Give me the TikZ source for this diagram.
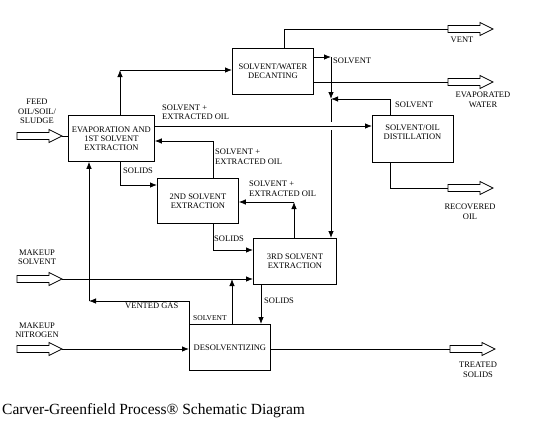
\documentclass[tikz,border=0pt]{standalone}
\usepackage{fontspec}
\setmainfont{Liberation Serif}
\usetikzlibrary{arrows.meta}
\newcommand{\hollowarrow}[1]{\draw[line width=0.7pt] ([shift={(0,-3.5)}]#1) -- ++(32,0) -- ++(0,-3) -- ++(13,6.5) -- ++(-13,6.5) -- ++(0,-3) -- ++(-32,0) -- cycle;}
\begin{document}
\begin{tikzpicture}[x=1pt,y=-1pt,
  box/.style={draw,line width=0.8pt,inner sep=0pt,anchor=north west,align=center,font=\fontsize{8.5}{9}\selectfont},
  lab/.style={inner sep=0pt,font=\fontsize{8.5}{9.5}\selectfont,align=left,anchor=west},
  clab/.style={inner sep=0pt,font=\fontsize{8.5}{9.5}\selectfont,align=center},
  wire/.style={line width=0.8pt},
  flow/.style={wire,-{Latex[length=7pt,width=5.5pt]}}
]
\useasboundingbox (0,0) rectangle (535,423);

% boxes
\node[box,minimum width=86pt,minimum height=46pt] (evap) at (68,115) {EVAPORATION AND\\1ST SOLVENT\\EXTRACTION};
\node[box,minimum width=81pt,minimum height=46pt] (decant) at (232,48) {SOLVENT/WATER\\DECANTING};
\node[box,minimum width=81pt,minimum height=45pt] (second) at (157,178) {2ND SOLVENT\\EXTRACTION};
\node[box,minimum width=83pt,minimum height=46pt] (third) at (253,238) {3RD SOLVENT\\EXTRACTION};
\node[box,minimum width=81pt,minimum height=47pt] (distill) at (372,115) {};
\node[clab,font=\fontsize{8.5}{9}\selectfont] (distilltext) at (412.5,132.5) {SOLVENT/OIL\\DISTILLATION};
\node[box,minimum width=81pt,minimum height=46pt] (desolv) at (189,324) {DESOLVENTIZING};

% hollow arrows: tail and tip coordinates
\coordinate (feedA) at (17,136);   \coordinate (feedT) at (62,136);
\coordinate (msA) at (17,279);     \coordinate (msT) at (62,279);
\coordinate (mnA) at (17,349);     \coordinate (mnT) at (62,349);
\coordinate (ventA) at (448,29);   \coordinate (ventT) at (493,29);
\coordinate (waterA) at (448,82);  \coordinate (waterT) at (493,82);
\coordinate (oilA) at (448,188);   \coordinate (oilT) at (493,188);
\coordinate (tsA) at (450,349);    \coordinate (tsT) at (495,349);
\hollowarrow{feedA}
\hollowarrow{msA}
\hollowarrow{mnA}
\hollowarrow{ventA}
\hollowarrow{waterA}
\hollowarrow{oilA}
\hollowarrow{tsA}

% corner coordinates
\coordinate (c1) at (120,70);
\coordinate (c2) at (284,29);
\coordinate (c3) at (331,57);
\coordinate (j) at (331,99);
\coordinate (gapA) at (331,122);
\coordinate (gapB) at (331,130);
\coordinate (c5) at (390,99);
\coordinate (c6) at (200,126);
\coordinate (c7) at (390,188);
\coordinate (c8) at (213,141);
\coordinate (c9) at (120,185);
\coordinate (c10) at (294,202);
\coordinate (c11) at (213,250);
\coordinate (c12) at (232,279);
\coordinate (c13) at (189,301);
\coordinate (c14) at (89,301);
\coordinate (c15) at (261,300);

% connectors
\draw[wire] (feedT) -- (evap.west |- feedT);
\draw[flow] (c1 |- evap.north) -- (c1);
\draw[flow] (c1) -- (c1 -| decant.west);
\draw[wire] (c2 |- decant.north) -- (c2) -- (ventA);
\draw[flow] (c3 -| decant.east) -- (c3);
\draw[flow] (c3) -- (j);
\draw[wire] (j) -- (gapA);
\draw[flow] (gapB) -- (gapB |- third.north);
\draw[wire] (waterA -| decant.east) -- (waterA);
\draw[flow] (c5 |- distill.north) -- (c5) -- (j);
\draw[flow] (c6 -| evap.east) -- (c6 -| distill.west);
\draw[wire] (c7 |- distill.south) -- (c7) -- (oilA);
\draw[flow] (c8 |- second.north) -- (c8) -- (c8 -| evap.east);
\draw[flow] (c9 |- evap.south) -- (c9) -- (c9 -| second.west);
\draw[flow] (c10 |- third.north) -- (c10);
\draw[flow] (c10) -- (c10 -| second.east);
\draw[flow] (c11 |- second.south) -- (c11) -- (c11 -| third.west);
\draw[flow] (msT) -- (msT -| third.west);
\draw[flow] (c12 |- desolv.north) -- (c12);
\draw[flow] (desolv.north west) -- (c13) -- (c14);
\draw[flow] (c14) -- (c14 |- evap.south);
\draw[flow] (c15 |- third.south) -- (c15 |- desolv.north);
\draw[flow] (mnT) -- (mnT -| desolv.west);
\draw[wire] (tsA -| desolv.east) -- (tsA);

% labels
\node[clab] (feedL) at (37,111.5) {FEED\\OIL/SOIL/\\SLUDGE};
\node[clab] (ventL) at (462,40) {VENT};
\node[lab] (solvL1) at (333,61) {SOLVENT};
\node[clab] (waterL) at (483,99.5) {EVAPORATED\\WATER};
\node[lab] (solvL2) at (395,105) {SOLVENT};
\node[lab] (seoL1) at (162,112) {SOLVENT +\\EXTRACTED OIL};
\node[lab] (seoL2) at (215,156.5) {SOLVENT +\\EXTRACTED OIL};
\node[lab] (seoL3) at (249,188.5) {SOLVENT +\\EXTRACTED OIL};
\node[lab] (solidsL1) at (123,171) {SOLIDS};
\node[lab] (solidsL2) at (214,239) {SOLIDS};
\node[clab] (oilL) at (470,211.5) {RECOVERED\\OIL};
\node[clab] (msL) at (37,257.5) {MAKEUP\\SOLVENT};
\node[lab] (ventgasL) at (125,306) {VENTED GAS};
\node[lab,font=\fontsize{7.5}{8}\selectfont] (solvL3) at (193,318) {SOLVENT};
\node[lab] (solidsL3) at (264,301) {SOLIDS};
\node[clab] (mnL) at (37,330) {MAKEUP\\NITROGEN};
\node[clab] (tsL) at (478,369.5) {TREATED\\SOLIDS};
\node[inner sep=0pt,anchor=west,font=\fontsize{15.5}{17}\selectfont] (caption) at (2,411) {Carver-Greenfield Process® Schematic Diagram};
\end{tikzpicture}
\end{document}
